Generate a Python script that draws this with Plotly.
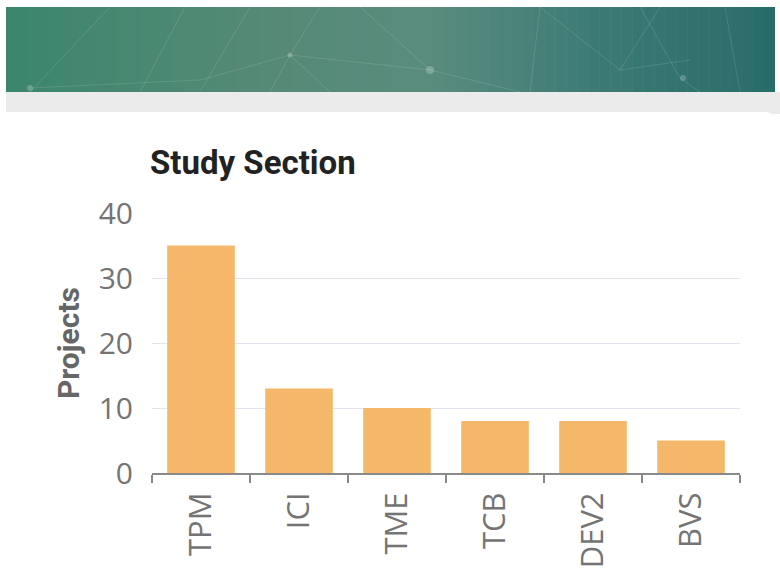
import plotly.graph_objects as go

categories = ["TPM", "ICI", "TME", "TCB", "DEV2", "BVS"]
projects = [35, 13, 10, 8, 8, 5]
y_ticks = [0, 10, 20, 30, 40]

W, H = 780, 586
L, R, T, B = 152, 40, 213, 113
PW, PH = W - L - R, H - T - B


def px(x):
    return (x - L) / PW


def py(y):
    return (H - B - y) / PH


def lerp(c1, c2, t):
    return tuple(int(round(a + (b - a) * t)) for a, b in zip(c1, c2))


fig = go.Figure()
fig.add_trace(go.Bar(
    x=categories, y=projects,
    marker=dict(color="#f5b86a", line=dict(width=0)),
    hoverinfo="x+y",
))

shapes = []
# banner gradient
stops = [(0.0, (60, 134, 110)), (0.35, (86, 138, 118)), (0.55, (90, 140, 126)),
         (0.75, (62, 124, 118)), (1.0, (40, 108, 106))]
x0, x1 = 6, 775
n = 70
for i in range(n):
    t = i / (n - 1)
    for j in range(len(stops) - 1):
        if stops[j][0] <= t <= stops[j + 1][0]:
            tt = (t - stops[j][0]) / (stops[j + 1][0] - stops[j][0])
            c = lerp(stops[j][1], stops[j + 1][1], tt)
            break
    xa = x0 + (x1 - x0) * i / n
    xb = x0 + (x1 - x0) * (i + 1) / n + 0.6
    shapes.append(dict(type="rect", xref="paper", yref="paper",
                       x0=px(xa), x1=px(min(xb, x1)), y0=py(92), y1=py(7),
                       fillcolor="rgb(%d,%d,%d)" % c, line=dict(width=0), layer="below"))
# faint network lines
net = [((30, 92), (110, 7)), ((140, 92), (185, 7)), ((200, 92), (250, 7)),
       ((30, 88), (200, 80)), ((200, 80), (290, 55)), ((290, 55), (430, 70)),
       ((290, 55), (330, 92)), ((290, 55), (270, 92)), ((320, 7), (290, 55)),
       ((430, 70), (360, 7)), ((430, 70), (520, 92)), ((530, 92), (540, 7)),
       ((620, 70), (660, 7)), ((680, 78), (640, 7)), ((680, 78), (700, 92)),
       ((740, 92), (725, 7)), ((540, 7), (620, 70)), ((620, 70), (690, 60))]
for (a, b) in net:
    shapes.append(dict(type="line", xref="paper", yref="paper",
                       x0=px(a[0]), y0=py(a[1]), x1=px(b[0]), y1=py(b[1]),
                       line=dict(color="rgba(255,255,255,0.12)", width=1)))
for (cx, cy, r) in [(290, 55, 2.5), (430, 70, 4), (683, 78, 3), (30, 88, 3)]:
    shapes.append(dict(type="circle", xref="paper", yref="paper",
                       x0=px(cx - r), x1=px(cx + r), y0=py(cy + r), y1=py(cy - r),
                       fillcolor="rgba(255,255,255,0.22)", line=dict(width=0)))
# gray strip
shapes.append(dict(type="rect", xref="paper", yref="paper",
                   x0=px(6), x1=px(780), y0=py(114), y1=py(92),
                   fillcolor="#ebebeb", line=dict(width=0), layer="below"))
# white card with rounded top-right corner
rad = 10
path = ("M %f,%f L %f,%f Q %f,%f %f,%f L %f,%f L %f,%f Z" % (
    px(6), py(112), px(775 - rad), py(112), px(775), py(112), px(775), py(112 + rad),
    px(775), py(586), px(6), py(586)))
shapes.append(dict(type="path", xref="paper", yref="paper", path=path,
                   fillcolor="#ffffff", line=dict(width=0), layer="below"))

fig.update_layout(
    width=W, height=H,
    margin=dict(l=L, r=R, t=T, b=B, pad=0),
    paper_bgcolor="#ffffff", plot_bgcolor="rgba(0,0,0,0)",
    bargap=0.31,
    showlegend=False,
    shapes=shapes,
    title=dict(text="<b>Study Section</b>", x=150 / W, xanchor="left",
               y=1 - 162 / H, yanchor="middle",
               font=dict(family="Roboto", size=33, color="#222222")),
    xaxis=dict(
        type="category",
        tickangle=-90,
        tickfont=dict(family="Open Sans", size=31, color="#747474"),
        showline=True, linecolor="#8a8a8a", linewidth=2,
        ticks="outside", tickson="boundaries", ticklen=8, tickwidth=2,
        tickcolor="#8a8a8a", ticklabelstandoff=5,
        showgrid=False,
    ),
    yaxis=dict(
        range=[0, 40],
        tickvals=y_ticks,
        tickfont=dict(family="Open Sans", size=30, color="#747474"),
        showline=False, zeroline=False,
        gridcolor="#e1e4ee", gridwidth=1,
        ticks="", ticklabelstandoff=18,
        title=dict(text="<b>Projects</b>", standoff=10,
                   font=dict(family="Roboto", size=30, color="#666666")),
    ),
)

fig.write_html("out.html")
